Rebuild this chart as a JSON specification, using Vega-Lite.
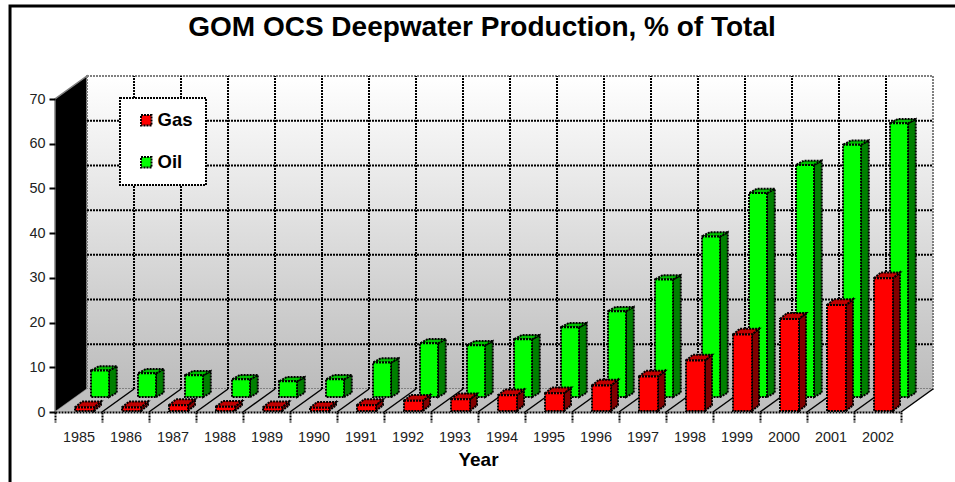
{"$schema":"https://vega.github.io/schema/vega-lite/v6.json","width":846,"height":313,"autosize":{"type":"none"},"padding":{"left":55,"top":99,"right":54,"bottom":70},"background":"white",
"title":{"text":"GOM OCS Deepwater Production, % of Total","font":"Liberation Sans","fontSize":28,"fontWeight":"bold","color":"black","anchor":"middle","dx":4,"offset":-38},
"config":{"view":{"stroke":null},"font":"Liberation Sans","legend":{"strokeDash":[2,1],"strokeWidth":2}},
"datasets":{"bars":[
{"year":1985,"Gas":0.8,"Oil":5.9},{"year":1986,"Gas":0.8,"Oil":5.3},{"year":1987,"Gas":1.3,"Oil":4.85},{"year":1988,"Gas":0.95,"Oil":3.95},{"year":1989,"Gas":0.8,"Oil":3.5},{"year":1990,"Gas":0.7,"Oil":3.95},{"year":1991,"Gas":1.3,"Oil":7.7},{"year":1992,"Gas":2.3,"Oil":12.0},{"year":1993,"Gas":2.6,"Oil":11.55},{"year":1994,"Gas":3.5,"Oil":12.9},{"year":1995,"Gas":3.95,"Oil":15.6},{"year":1996,"Gas":5.7,"Oil":19.2},{"year":1997,"Gas":7.7,"Oil":26.3},{"year":1998,"Gas":11.3,"Oil":35.9},{"year":1999,"Gas":17.1,"Oil":45.6},{"year":2000,"Gas":20.6,"Oil":51.9},{"year":2001,"Gas":23.7,"Oil":56.4},{"year":2002,"Gas":29.7,"Oil":61.2}],
"hgrid":[{"v":10},{"v":20},{"v":30},{"v":40},{"v":50},{"v":60}],
"ticks":[{"t":1986},{"t":1987},{"t":1988},{"t":1989},{"t":1990},{"t":1991},{"t":1992},{"t":1993},{"t":1994},{"t":1995},{"t":1996},{"t":1997},{"t":1998},{"t":1999},{"t":2000},{"t":2001},{"t":2002},{"t":2003}]},
"layer":[
{"data":{"values":[{"a":1984.043,"b":2012,"c":90.8,"d":-40}]},"mark":{"type":"rect","fill":"white","stroke":"black","strokeWidth":3},
"encoding":{"x":{"field":"a","type":"quantitative","scale":{"domain":[1985,2003],"nice":false,"zero":false},
"axis":{"values":[1985,1986,1987,1988,1989,1990,1991,1992,1993,1994,1995,1996,1997,1998,1999,2000,2001,2002,2003],"labelExpr":"datum.value==2003?'':format(datum.value,'d')","labelOffset":23.5,"labelFontSize":14.4,"labelColor":"#222222","labelOverlap":false,"labelBound":false,"labelFlush":false,"labelPadding":8,"tickSize":10,"tickColor":"black","tickDash":[2,1],"tickWidth":2,"domainColor":"black","domainDash":[2,1],"domainWidth":2,"grid":false,"title":"Year","titleFontSize":19,"titleFontWeight":"bold","titleColor":"black","titlePadding":7,"zindex":1}},
"x2":{"field":"b"},
"y":{"field":"c","type":"quantitative","scale":{"domain":[0,70],"nice":false,"zero":false},
"axis":{"values":[0,10,20,30,40,50,60,70],"labelFontSize":14.4,"labelColor":"#222222","labelPadding":4,"tickSize":6,"tickColor":"black","tickWidth":2,"domain":false,"grid":false,"title":null,"zindex":1}},
"y2":{"field":"d"}}},
{"data":{"values":[{"a":1985,"b":0,"c":70},{"a":1985.681,"b":5.144,"c":75.144}]},"mark":{"type":"area","orient":"vertical","fill":"black","stroke":"#808080","strokeWidth":1.5},
"encoding":{"x":{"field":"a","type":"quantitative","scale":{"domain":[1985,2003],"nice":false,"zero":false},"axis":null},"y":{"field":"b","type":"quantitative","scale":{"domain":[0,70],"nice":false,"zero":false},"axis":null},"y2":{"field":"c"}}},
{"data":{"values":[{"a":1985.681,"b":2003.681,"c":5.144,"d":75.144}]},"mark":{"type":"rect","stroke":"#808080","strokeWidth":2,"strokeDash":[2,1],"fill":{"gradient":"linear","x1":0,"y1":0,"x2":0,"y2":1,"stops":[{"offset":0,"color":"#ffffff"},{"offset":1,"color":"#bcbcbc"}]}},
"encoding":{"x":{"field":"a","type":"quantitative","scale":{"domain":[1985,2003],"nice":false,"zero":false},"axis":null},"x2":{"field":"b"},"y":{"field":"c","type":"quantitative","scale":{"domain":[0,70],"nice":false,"zero":false},"axis":null},"y2":{"field":"d"}}},
{"data":{"values":[{"a":1985,"b":0,"c":0},{"a":1985.681,"b":0,"c":5.144},{"a":2003,"b":0,"c":5.144},{"a":2003.681,"b":5.144,"c":5.144}]},"mark":{"type":"area","orient":"vertical","fill":"#c0c0c0"},
"encoding":{"x":{"field":"a","type":"quantitative","scale":{"domain":[1985,2003],"nice":false,"zero":false},"axis":null},"y":{"field":"b","type":"quantitative","scale":{"domain":[0,70],"nice":false,"zero":false},"axis":null},"y2":{"field":"c"}}},
{"data":{"name":"hgrid"},"transform":[{"calculate":"datum.v+5.144","as":"yy"},{"calculate":"1985.681","as":"a"},{"calculate":"2003.681","as":"b"}],"mark":{"type":"rule","stroke":"black","strokeWidth":2,"strokeDash":[2,1]},
"encoding":{"x":{"field":"a","type":"quantitative","scale":{"domain":[1985,2003],"nice":false,"zero":false},"axis":null},"x2":{"field":"b"},"y":{"field":"yy","type":"quantitative","scale":{"domain":[0,70],"nice":false,"zero":false},"axis":null}}},
{"data":{"name":"ticks"},"transform":[{"filter":"datum.t<2003"},{"calculate":"datum.t+0.681","as":"xx"},{"calculate":"5.144","as":"a"},{"calculate":"75.144","as":"b"}],"mark":{"type":"rule","stroke":"black","strokeWidth":2,"strokeDash":[2,1]},
"encoding":{"x":{"field":"xx","type":"quantitative","scale":{"domain":[1985,2003],"nice":false,"zero":false},"axis":null},"y":{"field":"a","type":"quantitative","scale":{"domain":[0,70],"nice":false,"zero":false},"axis":null},"y2":{"field":"b"}}},
{"data":{"name":"ticks"},"transform":[{"calculate":"datum.t+0.681","as":"xx"},{"calculate":"0","as":"a"},{"calculate":"5.144","as":"b"}],"mark":{"type":"rule","stroke":"black","strokeWidth":1.5},
"encoding":{"x":{"field":"t","type":"quantitative","scale":{"domain":[1985,2003],"nice":false,"zero":false},"axis":null},"x2":{"field":"xx"},"y":{"field":"a","type":"quantitative","scale":{"domain":[0,70],"nice":false,"zero":false},"axis":null},"y2":{"field":"b"}}},

{"data":{"name":"bars"},"transform":[{"calculate":"[0,1]","as":"k"},{"flatten":["k"]},{"calculate":"datum.year+0.766+0.383+datum.k*0.165","as":"xx"},{"calculate":"3.355+datum.k*0.95","as":"y0"},{"calculate":"3.355+datum.Oil+datum.k*0.95","as":"y1"}],"mark":{"type":"area","orient":"vertical","fill":"#008000","stroke":"black","strokeWidth":2,"strokeDash":[2,1]},
"encoding":{"x":{"field":"xx","type":"quantitative","scale":{"domain":[1985,2003],"nice":false,"zero":false},"axis":null},"y":{"field":"y0","type":"quantitative","scale":{"domain":[0,70],"nice":false,"zero":false},"axis":null},"y2":{"field":"y1"},"detail":{"field":"year"}}},
{"data":{"name":"bars"},"transform":[{"calculate":"[0,1,2,3]","as":"k"},{"flatten":["k"]},{"calculate":"datum.year+0.766+(datum.k==0?0:datum.k==1?0.165:datum.k==2?0.383:0.548)","as":"xx"},{"calculate":"3.355+datum.Oil+(datum.k==3?0.95:0)","as":"y0"},{"calculate":"3.355+datum.Oil+(datum.k==0?0:0.95)","as":"y1"}],"mark":{"type":"area","orient":"vertical","fill":"#00c000","stroke":"black","strokeWidth":2,"strokeDash":[2,1]},
"encoding":{"x":{"field":"xx","type":"quantitative","scale":{"domain":[1985,2003],"nice":false,"zero":false},"axis":null},"y":{"field":"y0","type":"quantitative","scale":{"domain":[0,70],"nice":false,"zero":false},"axis":null},"y2":{"field":"y1"},"detail":{"field":"year"}}},
{"data":{"name":"bars"},"transform":[{"calculate":"'Oil'","as":"series"},{"calculate":"datum.year+0.766","as":"xa"},{"calculate":"datum.year+1.149","as":"xb"},{"calculate":"3.355","as":"y0"},{"calculate":"3.355+datum.Oil","as":"y1"}],"mark":{"type":"rect","stroke":"black","strokeWidth":2,"strokeDash":[2,1]},
"encoding":{"x":{"field":"xa","type":"quantitative","scale":{"domain":[1985,2003],"nice":false,"zero":false},"axis":null},"x2":{"field":"xb"},"y":{"field":"y0","type":"quantitative","scale":{"domain":[0,70],"nice":false,"zero":false},"axis":null},"y2":{"field":"y1"},
"color":{"field":"series","type":"nominal","scale":{"domain":["Gas","Oil"],"range":["#ff0000","#00ff00"]},"legend":{"title":null,"orient":"none","legendX":65,"legendY":-1,"fillColor":"white","strokeColor":"black","padding":13,"rowPadding":23,"symbolType":"square","symbolSize":110,"symbolStrokeColor":"black","symbolStrokeWidth":2,"symbolDash":[2,1],"symbolOffset":4,"labelFontSize":18.5,"labelFontWeight":"bold","labelColor":"black","labelOffset":2}}}},

{"data":{"name":"bars"},"transform":[{"calculate":"[0,1]","as":"k"},{"flatten":["k"]},{"calculate":"datum.year+0.4255+0.404+datum.k*0.149","as":"xx"},{"calculate":"0.224+datum.k*1.3","as":"y0"},{"calculate":"0.224+datum.Gas+datum.k*1.3","as":"y1"}],"mark":{"type":"area","orient":"vertical","fill":"#800000","stroke":"black","strokeWidth":2,"strokeDash":[2,1]},
"encoding":{"x":{"field":"xx","type":"quantitative","scale":{"domain":[1985,2003],"nice":false,"zero":false},"axis":null},"y":{"field":"y0","type":"quantitative","scale":{"domain":[0,70],"nice":false,"zero":false},"axis":null},"y2":{"field":"y1"},"detail":{"field":"year"}}},
{"data":{"name":"bars"},"transform":[{"calculate":"[0,1,2,3]","as":"k"},{"flatten":["k"]},{"calculate":"datum.year+0.4255+(datum.k==0?0:datum.k==1?0.149:datum.k==2?0.404:0.553)","as":"xx"},{"calculate":"0.224+datum.Gas+(datum.k==3?1.3:0)","as":"y0"},{"calculate":"0.224+datum.Gas+(datum.k==0?0:1.3)","as":"y1"}],"mark":{"type":"area","orient":"vertical","fill":"#c00000","stroke":"black","strokeWidth":2,"strokeDash":[2,1]},
"encoding":{"x":{"field":"xx","type":"quantitative","scale":{"domain":[1985,2003],"nice":false,"zero":false},"axis":null},"y":{"field":"y0","type":"quantitative","scale":{"domain":[0,70],"nice":false,"zero":false},"axis":null},"y2":{"field":"y1"},"detail":{"field":"year"}}},
{"data":{"name":"bars"},"transform":[{"calculate":"'Gas'","as":"series"},{"calculate":"datum.year+0.4255","as":"xa"},{"calculate":"datum.year+0.8295","as":"xb"},{"calculate":"0.224","as":"y0"},{"calculate":"0.224+datum.Gas","as":"y1"}],"mark":{"type":"rect","stroke":"black","strokeWidth":2,"strokeDash":[2,1]},
"encoding":{"x":{"field":"xa","type":"quantitative","scale":{"domain":[1985,2003],"nice":false,"zero":false},"axis":null},"x2":{"field":"xb"},"y":{"field":"y0","type":"quantitative","scale":{"domain":[0,70],"nice":false,"zero":false},"axis":null},"y2":{"field":"y1"},
"color":{"field":"series","type":"nominal","scale":{"domain":["Gas","Oil"],"range":["#ff0000","#00ff00"]}}}}
],
"resolve":{"scale":{"x":"shared","y":"shared"},"axis":{"x":"independent","y":"independent"}}}
